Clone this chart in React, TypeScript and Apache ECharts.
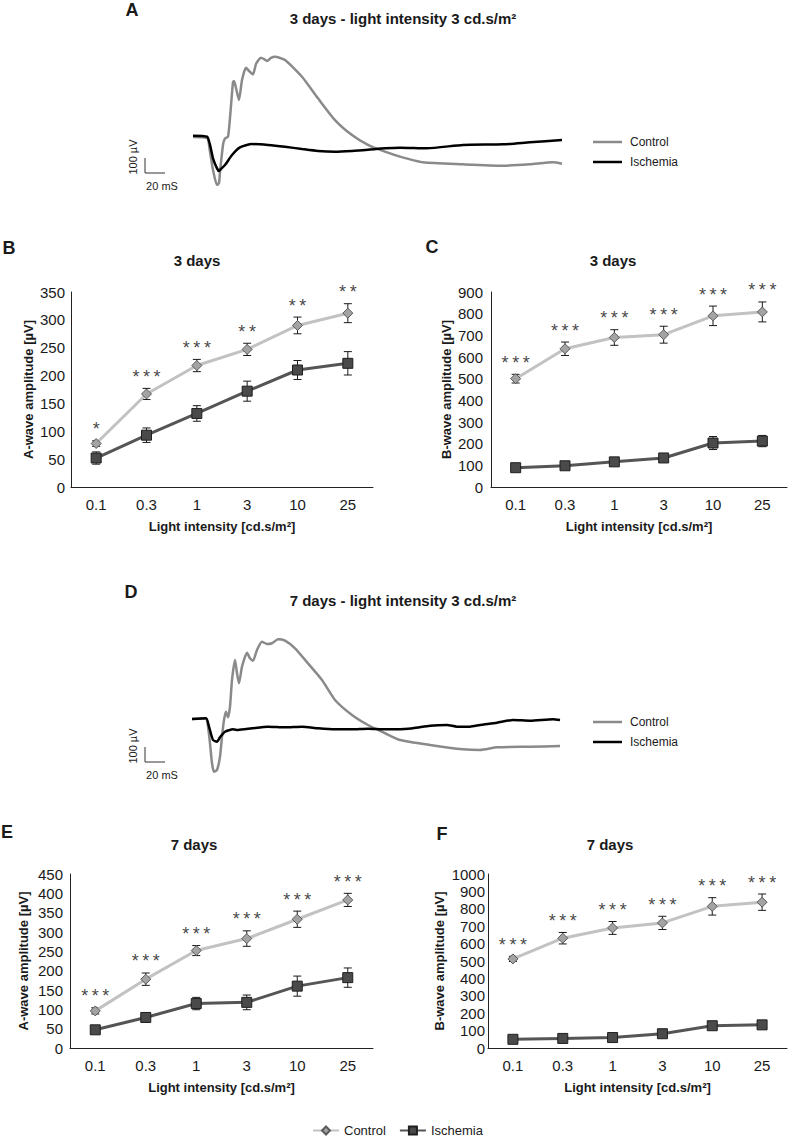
import React, { useEffect, useRef } from "react";
import * as echarts from "echarts";

const FONT = '"Liberation Sans", Arial, sans-serif';

const intensities = ["0.1", "0.3", "1", "3", "10", "25"];

// Panel B: 3 days, A-wave
const ctrlB = [78, 167, 218, 247, 290, 312];
const ctrlErrB = [5, 10, 11, 11, 15, 17];
const ischB = [52, 93, 132, 172, 210, 222];
const ischErrB = [11, 13, 14, 18, 17, 21];
const sigB = ["*", "***", "***", "**", "**", "**"];

// Panel C: 3 days, B-wave
const ctrlC = [500, 638, 690, 703, 790, 808];
const ctrlErrC = [20, 31, 36, 39, 45, 46];
const ischC = [89, 98, 116, 134, 203, 212];
const ischErrC = [12, 12, 10, 10, 30, 26];
const sigC = ["***", "***", "***", "***", "***", "***"];

// Panel E: 7 days, A-wave
const ctrlE = [96, 178, 252, 283, 333, 383];
const ctrlErrE = [8, 16, 13, 20, 21, 17];
const ischE = [47, 79, 115, 118, 160, 182];
const ischErrE = [5, 12, 16, 19, 26, 25];
const sigE = ["***", "***", "***", "***", "***", "***"];

// Panel F: 7 days, B-wave
const ctrlF = [512, 631, 690, 719, 814, 838];
const ctrlErrF = [15, 33, 37, 38, 50, 47];
const ischF = [50, 55, 60, 82, 128, 133];
const ischErrF = [8, 8, 8, 10, 15, 15];
const sigF = ["***", "***", "***", "***", "***", "***"];

// ERG traces [time ms, amplitude µV]
const ctrlTraceA = [
  [0, 0], [14, -5], [17, -98], [20, -220], [24, -320], [26, -307], [27, -233], [30, -53],
  [32, -9], [35, 2], [37, 127], [40, 367], [41, 373], [43, 327], [46, 247], [49, 380],
  [53, 462], [56, 440], [60, 418], [63, 487], [68, 529], [71, 520], [74, 507], [78, 527],
  [82, 535], [92, 513], [109, 402], [125, 258], [142, 113], [159, 13], [175, -53],
  [192, -98], [207, -131], [230, -169], [270, -182], [310, -191], [337, -182], [360, -169], [369, -178],
];
const ischTraceA = [
  [0, 9], [14, 2], [17, -53], [20, -142], [24, -209], [26, -227], [27, -220], [32, -187],
  [39, -120], [47, -69], [59, -47], [75, -53], [92, -65], [109, -80], [125, -93], [142, -98],
  [159, -93], [175, -85], [192, -75], [207, -71], [234, -75], [270, -53], [310, -49], [337, -35], [369, -20],
];
const ctrlTraceD = [
  [0, 0], [14, 5], [16, -51], [18, -162], [20, -295], [22, -351], [25, -340], [28, -251],
  [30, -118], [32, -7], [34, 49], [36, 11], [38, 82], [40, 260], [43, 393], [45, 305],
  [47, 238], [50, 349], [55, 442], [58, 405], [61, 389], [65, 460], [70, 515], [75, 500],
  [80, 505], [86, 531], [93, 522], [103, 471], [116, 371], [130, 260], [143, 127], [160, 27],
  [176, -40], [193, -95], [208, -140], [238, -173], [271, -202], [288, -207], [305, -189], [338, -185], [368, -180],
];
const ischTraceD = [
  [0, 0], [14, 5], [17, -51], [21, -140], [25, -151], [28, -122], [33, -85], [41, -69],
  [46, -73], [60, -62], [76, -51], [93, -55], [110, -51], [126, -62], [143, -69], [160, -69],
  [176, -65], [193, -69], [205, -69], [221, -62], [238, -45], [255, -40], [265, -51], [278, -51],
  [288, -40], [305, -25], [321, -7], [338, -11], [361, -2], [368, -7],
];

const CTRL_LINE = "#c2c2c2";
const ISCH_LINE = "#555555";
const TXT = "#1a1a1a";

function errRender(params: any, api: any) {
  const i = api.value(0);
  const lo = api.coord([i, api.value(1)]);
  const hi = api.coord([i, api.value(2)]);
  const w = 4;
  const style = { stroke: "#1a1a1a", lineWidth: 1 };
  return {
    type: "group",
    children: [
      { type: "line", shape: { x1: lo[0], y1: lo[1], x2: hi[0], y2: hi[1] }, style },
      { type: "line", shape: { x1: lo[0] - w, y1: lo[1], x2: lo[0] + w, y2: lo[1] }, style },
      { type: "line", shape: { x1: hi[0] - w, y1: hi[1], x2: hi[0] + w, y2: hi[1] }, style },
    ],
  };
}

function spaced(s: string) {
  return s.split("").join("\u2009");
}

function panelSeries(g: number, ctrl: number[], ctrlErr: number[], isch: number[], ischErr: number[], sig: string[]) {
  return [
    {
      type: "custom",
      name: "errC" + g,
      xAxisIndex: g,
      yAxisIndex: g,
      renderItem: errRender,
      encode: { x: 0, y: [1, 2] },
      data: ctrl.map((v, i) => [i, v - ctrlErr[i], v + ctrlErr[i]]),
      z: 2,
      silent: true,
    },
    {
      type: "custom",
      name: "errI" + g,
      xAxisIndex: g,
      yAxisIndex: g,
      renderItem: errRender,
      encode: { x: 0, y: [1, 2] },
      data: isch.map((v, i) => [i, v - ischErr[i], v + ischErr[i]]),
      z: 2,
      silent: true,
    },
    {
      type: "line",
      name: "Control",
      xAxisIndex: g,
      yAxisIndex: g,
      data: ctrl,
      symbol: "diamond",
      symbolSize: 10,
      lineStyle: { color: CTRL_LINE, width: 3 },
      itemStyle: { color: "#a3a3a3", borderColor: "#5a5a5a", borderWidth: 1 },
      z: 3,
    },
    {
      type: "line",
      name: "Ischemia",
      xAxisIndex: g,
      yAxisIndex: g,
      data: isch,
      symbol: "rect",
      symbolSize: 10,
      lineStyle: { color: ISCH_LINE, width: 3 },
      itemStyle: { color: "#4a4a4a", borderColor: "#1f1f1f", borderWidth: 1 },
      z: 4,
    },
    {
      type: "scatter",
      name: "sig" + g,
      xAxisIndex: g,
      yAxisIndex: g,
      data: ctrl.map((v, i) => [i, v + ctrlErr[i]]),
      symbolSize: 1,
      itemStyle: { color: "rgba(0,0,0,0)" },
      silent: true,
      z: 5,
      label: {
        show: true,
        position: "top",
        distance: 2,
        fontSize: 18,
        fontFamily: FONT,
        color: "#111",
        formatter: (p: any) => spaced(sig[p.dataIndex]),
      },
    },
  ];
}

function catAxis(g: number) {
  return {
    type: "category",
    gridIndex: g,
    data: intensities,
    boundaryGap: true,
    axisLine: { lineStyle: { color: "#222", width: 1 } },
    axisTick: { show: false },
    axisLabel: { fontSize: 15, fontFamily: FONT, color: TXT, margin: 10 },
    splitLine: { show: false },
    name: "Light intensity [cd.s/m²]",
    nameLocation: "middle",
    nameGap: 33,
    nameTextStyle: { fontSize: 13, fontWeight: "bold", fontFamily: FONT, color: TXT },
  };
}

function valAxis(g: number, max: number, interval: number, name: string, nameGap: number, margin: number) {
  return {
    type: "value",
    gridIndex: g,
    min: 0,
    max,
    interval,
    axisLine: { show: true, lineStyle: { color: "#222", width: 1 } },
    axisTick: { show: false },
    splitLine: { show: false },
    axisLabel: { fontSize: 15, fontFamily: FONT, color: TXT, margin, formatter: (v: number) => String(v) },
    name,
    nameLocation: "middle",
    nameRotate: 90,
    nameGap,
    nameTextStyle: { fontSize: 13, fontWeight: "bold", fontFamily: FONT, color: TXT },
  };
}

function txt(text: string, x: number, y: number, size: number, bold: boolean, align = "center", rotation = 0) {
  return {
    type: "text",
    x,
    y,
    rotation,
    style: {
      text,
      fontSize: size,
      fontWeight: bold ? "bold" : "normal",
      fontFamily: FONT,
      fill: TXT,
      align,
      verticalAlign: "middle",
      textAlign: align,
      textVerticalAlign: "middle",
    },
  };
}

function hline(x1: number, y1: number, x2: number, y2: number, color: string, width: number) {
  return { type: "line", shape: { x1, y1, x2, y2 }, style: { stroke: color, lineWidth: width } };
}

function traceDecor(scaleTop: number, legendY1: number, legendY2: number) {
  return [
    hline(145, scaleTop, 145, scaleTop + 15, "#333", 1),
    hline(145, scaleTop + 15, 165, scaleTop + 15, "#333", 1),
    txt("100 µV", 133, scaleTop - 1, 11, false, "center", Math.PI / 2),
    txt("20 mS", 162, scaleTop + 28, 11, false, "center"),
    hline(593, legendY1, 622, legendY1, "#8a8a8a", 2.5),
    hline(593, legendY2, 622, legendY2, "#000", 2.5),
    txt("Control", 630, legendY1, 12, false, "left"),
    txt("Ischemia", 630, legendY2, 12, false, "left"),
  ];
}

export default function App() {
  const ref = useRef<HTMLDivElement>(null);
  useEffect(() => {
    if (!ref.current) return;
    const chart = echarts.init(ref.current, undefined, { renderer: "svg" });
    const traceX = (g: number) => ({ type: "value", gridIndex: g, min: 0, max: 369, show: false });
    const traceY = (g: number) => ({ type: "value", gridIndex: g, min: -400, max: 600, show: false });
    const option: any = {
      animation: false,
      backgroundColor: "#fff",
      grid: [
        { left: 193, top: 47, width: 369, height: 150 },
        { left: 71, top: 292, width: 302, height: 195 },
        { left: 491, top: 292, width: 296, height: 195 },
        { left: 192, top: 629, width: 369, height: 150 },
        { left: 70, top: 874, width: 303, height: 174 },
        { left: 488, top: 874, width: 299, height: 174 },
      ],
      xAxis: [traceX(0), catAxis(1), catAxis(2), traceX(3), catAxis(4), catAxis(5)],
      yAxis: [
        traceY(0),
        valAxis(1, 350, 50, "A-wave amplitude [µV]", 36, 6),
        valAxis(2, 900, 100, "B-wave amplitude [µV]", 38, 8),
        traceY(3),
        valAxis(4, 450, 50, "A-wave amplitude [µV]", 40, 7),
        valAxis(5, 1000, 100, "B-wave amplitude [µV]", 42, 3),
      ],
      legend: {
        data: ["Control", "Ischemia"],
        left: 307,
        top: 1119,
        itemWidth: 26,
        itemHeight: 10,
        itemGap: 13,
        textStyle: { fontSize: 13, fontFamily: FONT, color: TXT },
      },
      series: [
        ...panelSeries(1, ctrlB, ctrlErrB, ischB, ischErrB, sigB),
        ...panelSeries(2, ctrlC, ctrlErrC, ischC, ischErrC, sigC),
        ...panelSeries(4, ctrlE, ctrlErrE, ischE, ischErrE, sigE),
        ...panelSeries(5, ctrlF, ctrlErrF, ischF, ischErrF, sigF),
        { type: "line", name: "Control trace 3 days", xAxisIndex: 0, yAxisIndex: 0, data: ctrlTraceA, showSymbol: false, symbol: "none", smooth: 0.2, lineStyle: { color: "#8a8a8a", width: 2.5 } },
        { type: "line", name: "Ischemia trace 3 days", xAxisIndex: 0, yAxisIndex: 0, data: ischTraceA, showSymbol: false, symbol: "none", smooth: 0.2, lineStyle: { color: "#000", width: 2.5 } },
        { type: "line", name: "Control trace 7 days", xAxisIndex: 3, yAxisIndex: 3, data: ctrlTraceD, showSymbol: false, symbol: "none", smooth: 0.2, lineStyle: { color: "#8a8a8a", width: 2.5 } },
        { type: "line", name: "Ischemia trace 7 days", xAxisIndex: 3, yAxisIndex: 3, data: ischTraceD, showSymbol: false, symbol: "none", smooth: 0.2, lineStyle: { color: "#000", width: 2.5 } },
      ],
      graphic: [
        txt("A", 132, 10, 18, true),
        txt("B", 9, 248, 18, true),
        txt("C", 432, 247, 18, true),
        txt("D", 131, 592, 18, true),
        txt("E", 7, 832, 18, true),
        txt("F", 442, 834, 18, true),
        txt("3 days - light intensity 3 cd.s/m²", 403, 18, 15, true),
        txt("3 days", 197, 260, 15, true),
        txt("3 days", 613, 260, 15, true),
        txt("7 days - light intensity 3 cd.s/m²", 403, 600, 15, true),
        txt("7 days", 194, 844, 15, true),
        txt("7 days", 610, 844, 15, true),
        ...traceDecor(158, 142, 162),
        ...traceDecor(747, 722, 742),
      ],
    };
    chart.setOption(option);
    return () => chart.dispose();
  }, []);
  return (
    <div
      ref={ref}
      style={{ position: "absolute", left: 0, top: 0, width: 790, height: 1141, background: "#fff" }}
    />
  );
}
